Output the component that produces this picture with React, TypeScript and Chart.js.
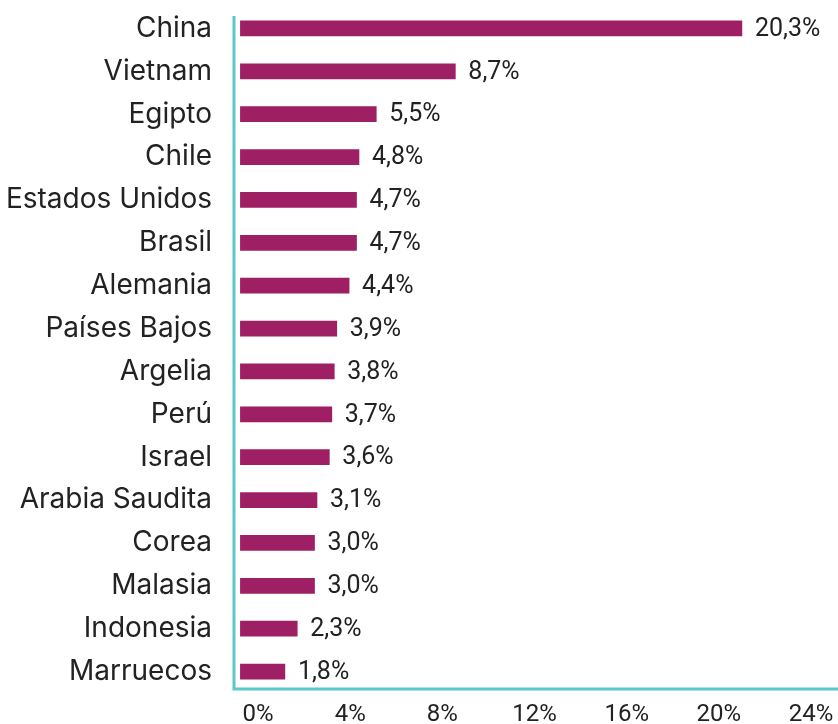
import React, { useEffect, useRef } from "react";
import { Chart, registerables } from "chart.js";

Chart.register(...registerables);

const categories = [
  "China", "Vietnam", "Egipto", "Chile", "Estados Unidos", "Brasil", "Alemania",
  "Países Bajos", "Argelia", "Perú", "Israel", "Arabia Saudita", "Corea",
  "Malasia", "Indonesia", "Marruecos",
];
const values = [20.3, 8.7, 5.5, 4.8, 4.7, 4.7, 4.4, 3.9, 3.8, 3.7, 3.6, 3.1, 3.0, 3.0, 2.3, 1.8];
const tickValues = [0, 4, 8, 12, 16, 20, 24];

const BAR = "#9E1F63";
const TEAL = "#5BC8CB";
const TEXT = "#222222";

const fmt = (v: number) => v.toFixed(1).replace(".", ",") + "%";

const valueLabels = {
  id: "valueLabels",
  afterDatasetsDraw(chart: any) {
    const ctx = chart.ctx;
    const meta = chart.getDatasetMeta(0);
    ctx.save();
    ctx.font = "25px Roboto";
    ctx.fillStyle = TEXT;
    ctx.textAlign = "left";
    ctx.textBaseline = "middle";
    meta.data.forEach((el: any, i: number) => {
      ctx.fillText(fmt(values[i]), el.x + 13, el.y + 1);
    });
    ctx.restore();
  },
};

const axisLines = {
  id: "axisLines",
  afterDraw(chart: any) {
    const { ctx, chartArea } = chart;
    ctx.save();
    ctx.strokeStyle = TEAL;
    ctx.lineWidth = 3;
    ctx.beginPath();
    ctx.moveTo(chartArea.left + 1, chartArea.top + 9);
    ctx.lineTo(chartArea.left + 1, chartArea.bottom - 4);
    ctx.lineTo(chartArea.right, chartArea.bottom - 4);
    ctx.stroke();
    ctx.restore();
  },
};

export default function App() {
  const ref = useRef<HTMLCanvasElement>(null);
  useEffect(() => {
    if (!ref.current) return;
    const chart = new Chart(ref.current, {
      type: "bar",
      data: {
        labels: categories,
        datasets: [
          {
            data: values,
            backgroundColor: BAR,
            barThickness: 15,
            xAxisID: "x",
            yAxisID: "y",
          },
        ],
      },
      plugins: [valueLabels, axisLines],
      options: {
        indexAxis: "y",
        animation: false,
        responsive: false,
        layout: { padding: { top: 7, right: 0, left: 0, bottom: 0 } },
        plugins: { legend: { display: false }, tooltip: { enabled: false } },
        scales: {
          x: {
            type: "linear",
            display: false,
            min: -0.3,
            max: 24.19,
          },
          x2: {
            type: "linear",
            position: "bottom",
            min: -1.085,
            max: 25.17,
            grid: { display: false, drawTicks: false },
            border: { display: false },
            afterBuildTicks: (s: any) => {
              s.ticks = tickValues.map((v) => ({ value: v }));
            },
            afterFit: (s: any) => {
              s.height = 31;
              s.paddingLeft = 0;
              s.paddingRight = 0;
            },
            ticks: {
              autoSkip: false,
              maxRotation: 0,
              padding: 8,
              color: TEXT,
              font: { family: "Roboto", size: 24 },
              callback: (v: any) => v + "%",
            },
          },
          y: {
            type: "category",
            grid: { display: false, drawTicks: false },
            border: { display: false },
            afterFit: (s: any) => {
              s.width = 233;
              s.paddingTop = 0;
              s.paddingBottom = 0;
            },
            ticks: {
              padding: 21,
              color: TEXT,
              font: { family: "Inter", size: 28 },
            },
          },
        },
      },
    });
    return () => chart.destroy();
  }, []);
  return (
    <div style={{ position: "absolute", left: 0, top: 0, width: 838, height: 724 }}>
      <canvas ref={ref} width={838} height={724} style={{ width: 838, height: 724 }} />
    </div>
  );
}
